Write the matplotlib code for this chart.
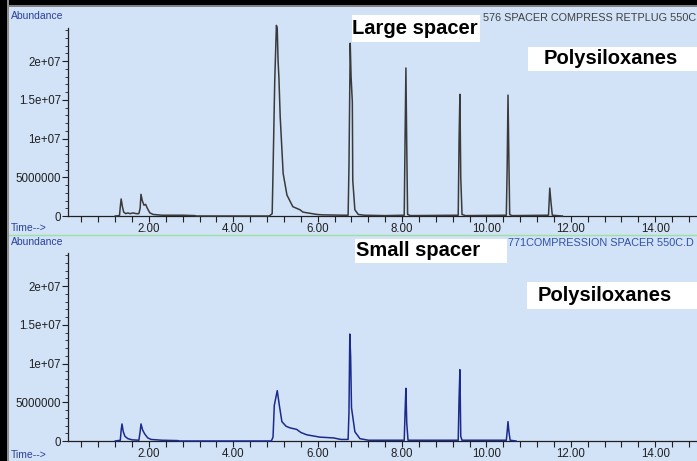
import matplotlib
matplotlib.use("Agg")
import matplotlib.pyplot as plt
from matplotlib.patches import Rectangle
from matplotlib.ticker import MultipleLocator, FixedLocator, FixedFormatter
from matplotlib.lines import Line2D

plt.rcParams['font.family'] = ['Liberation Sans', 'DejaVu Sans']

# ---------------- data (time in minutes, abundance in millions) ----------------
top_time = [1.20, 1.30, 1.32, 1.34, 1.37, 1.40, 1.45, 1.50, 1.55, 1.62, 1.70, 1.76,
            1.79, 1.81, 1.84, 1.88, 1.92, 1.96, 2.02, 2.10, 2.30, 2.80, 3.09, 3.12,
            4.85, 4.92, 4.94, 4.98, 5.02, 5.04, 5.06, 5.08, 5.11, 5.18, 5.27, 5.41,
            5.58, 5.65, 5.98, 6.10, 6.60, 6.72, 6.74, 6.77, 6.79, 6.82, 6.83, 6.88,
            6.96, 7.10, 7.60, 8.05, 8.07, 8.09, 8.11, 8.13, 8.20, 9.33, 9.35, 9.37,
            9.39, 9.42, 9.50, 10.47, 10.49, 10.51, 10.53, 10.55, 10.60, 11.47, 11.50,
            11.53, 11.56, 11.80]
top_abund = [0.0, 0.05, 1.2, 2.2, 1.2, 0.5, 0.3, 0.4, 0.3, 0.4, 0.3, 0.3,
             1.0, 2.8, 2.0, 1.4, 1.5, 1.0, 0.4, 0.2, 0.1, 0.1, 0.05, 0.0,
             0.0, 0.3, 5.7, 17.3, 24.6, 24.2, 20.0, 17.8, 12.8, 5.5, 2.7, 1.2,
             0.8, 0.5, 0.2, 0.15, 0.1, 0.1, 6.3, 22.3, 18.0, 14.7, 4.6, 0.8,
             0.2, 0.1, 0.05, 0.1, 10.0, 19.1, 8.9, 0.2, 0.05, 0.1, 9.9, 15.7,
             5.0, 0.2, 0.05, 0.1, 6.2, 15.6, 7.6, 0.2, 0.05, 0.1, 3.6,
             1.7, 0.1, 0.0]

bottom_time = [1.20, 1.32, 1.34, 1.36, 1.39, 1.43, 1.50, 1.60, 1.76, 1.79, 1.81, 1.85,
               1.90, 1.97, 2.05, 2.30, 2.69, 2.72, 4.90, 4.94, 4.97, 5.04, 5.09, 5.15,
               5.25, 5.34, 5.50, 5.60, 5.74, 6.05, 6.37, 6.55, 6.72, 6.74, 6.76, 6.78,
               6.80, 6.88, 7.00, 7.20, 8.05, 8.07, 8.09, 8.11, 8.14, 9.33, 9.35, 9.37,
               9.39, 9.42, 10.47, 10.49, 10.51, 10.53, 10.56, 10.70]
bottom_abund = [0.0, 0.1, 1.4, 2.2, 1.2, 0.6, 0.3, 0.15, 0.1, 1.2, 2.2, 1.4,
                0.9, 0.4, 0.2, 0.1, 0.05, 0.0, 0.0, 0.5, 4.6, 6.5, 4.6, 2.5,
                1.9, 1.7, 1.5, 1.1, 0.8, 0.5, 0.4, 0.2, 0.2, 3.7, 13.8, 10.8,
                4.3, 1.2, 0.3, 0.1, 0.1, 3.7, 6.8, 2.3, 0.1, 0.1, 5.5, 9.2,
                0.6, 0.1, 0.1, 1.2, 2.5, 1.3, 0.1, 0.0]

y_tick_values = [0, 5e6, 1e7, 1.5e7, 2e7]
y_tick_labels = ["0", "5000000", "1e+07", "1.5e+07", "2e+07"]
x_tick_values = [2, 4, 6, 8, 10, 12, 14]
x_tick_labels = ["2.00", "4.00", "6.00", "8.00", "10.00", "12.00", "14.00"]

top_title_visible = "576 SPACER COMPRESS RETPLUG 550C"
bottom_title = "771COMPRESSION SPACER 550C.D"
top_label = "Large spacer"
bottom_label = "Small spacer"
poly_label = "Polysiloxanes"

# ---------------- figure ----------------
W, H = 697, 461
BG = "#d2e3f8"
fig = plt.figure(figsize=(W / 100, H / 100), dpi=100, facecolor=BG)

def fx(px):
    return px / W

def fy(py):
    return 1 - py / H

XMIN, XMAX = 0.08, 14.99
YMAX = 2.426e7

def make_axes(top_px, bottom_px, times, abund, color):
    ax = fig.add_axes([fx(68), fy(bottom_px), 1 - fx(68), fy(top_px) - fy(bottom_px)])
    ax.patch.set_alpha(0)
    ax.set_xlim(XMIN, XMAX)
    ax.set_ylim(0, YMAX)
    ax.plot(times, [a * 1e6 for a in abund], color=color, lw=1.1, clip_on=False, zorder=3)
    for s in ("top", "right"):
        ax.spines[s].set_visible(False)
    for s in ("left", "bottom"):
        ax.spines[s].set_color("#202020")
        ax.spines[s].set_linewidth(0.9)
    ax.yaxis.set_major_locator(FixedLocator(y_tick_values))
    ax.yaxis.set_major_formatter(FixedFormatter(y_tick_labels))
    ax.yaxis.set_minor_locator(MultipleLocator(1e6))
    ax.xaxis.set_major_locator(FixedLocator(x_tick_values))
    ax.xaxis.set_major_formatter(FixedFormatter(x_tick_labels))
    ax.xaxis.set_minor_locator(MultipleLocator(0.4))
    ax.tick_params(axis="y", which="major", length=4, width=0.8, colors="#202020",
                   labelsize=8.3, pad=1)
    ax.tick_params(axis="y", which="minor", length=2, width=0.6, colors="#202020")
    ax.tick_params(axis="x", which="major", length=4, width=0.8, colors="#202020",
                   labelsize=8.3, pad=1)
    ax.tick_params(axis="x", which="minor", length=4, width=0.8, colors="#202020")
    return ax

ax1 = make_axes(28, 216, top_time, top_abund, "#3a3a3a")
ax2 = make_axes(253, 441, bottom_time, bottom_abund, "#1c2a8c")

# frame decorations
fig.patches.append(Rectangle((0, fy(5)), 1, 1 - fy(5), transform=fig.transFigure,
                             facecolor="black", edgecolor="none", zorder=10))
fig.patches.append(Rectangle((0, fy(7)), 1, fy(5) - fy(7), transform=fig.transFigure,
                             facecolor="#808080", edgecolor="none", zorder=10))
fig.patches.append(Rectangle((0, 0), fx(7), 1, transform=fig.transFigure,
                             facecolor="black", edgecolor="none", zorder=10))
fig.patches.append(Rectangle((fx(7), 0), fx(2), 1, transform=fig.transFigure,
                             facecolor="#909090", edgecolor="none", zorder=10))
fig.lines.append(Line2D([fx(9), 1], [fy(235), fy(235)], transform=fig.transFigure,
                        color="#9ee09e", lw=1.0, zorder=5))

blue = "#2a3f9a"
fig.text(fx(11), fy(16), "Abundance", color=blue, fontsize=7.5, va="center", ha="left")
fig.text(fx(11), fy(228), "Time-->", color=blue, fontsize=7.5, va="center", ha="left")
fig.text(fx(11), fy(242), "Abundance", color=blue, fontsize=7.5, va="center", ha="left")
fig.text(fx(11), fy(455), "Time-->", color=blue, fontsize=7.5, va="center", ha="left")

# data-file titles
fig.text(fx(483), fy(18), top_title_visible, color="#404040", fontsize=7.8,
         va="center", ha="left", zorder=4)
fig.text(fx(508), fy(243), bottom_title, color="#3050a8", fontsize=7.8,
         va="center", ha="left", zorder=4)

# white label boxes
def label_box(x0, y0, x1, y1, tx, text):
    fig.patches.append(Rectangle((fx(x0), fy(y1)), fx(x1) - fx(x0), fy(y0) - fy(y1),
                                 transform=fig.transFigure, facecolor="white",
                                 edgecolor="none", zorder=6))
    fig.text(fx(tx), fy((y0 + y1) / 2), text, fontsize=14.5, fontweight="bold",
             color="black", va="center", ha="left", zorder=7)

label_box(352, 15, 480, 42, 352, top_label)
label_box(528, 47, 697, 71, 544, poly_label)
label_box(355, 239, 507, 263, 356, bottom_label)
label_box(527, 282, 697, 309, 538, poly_label)

fig.savefig("out.png", dpi=100, facecolor=BG)
